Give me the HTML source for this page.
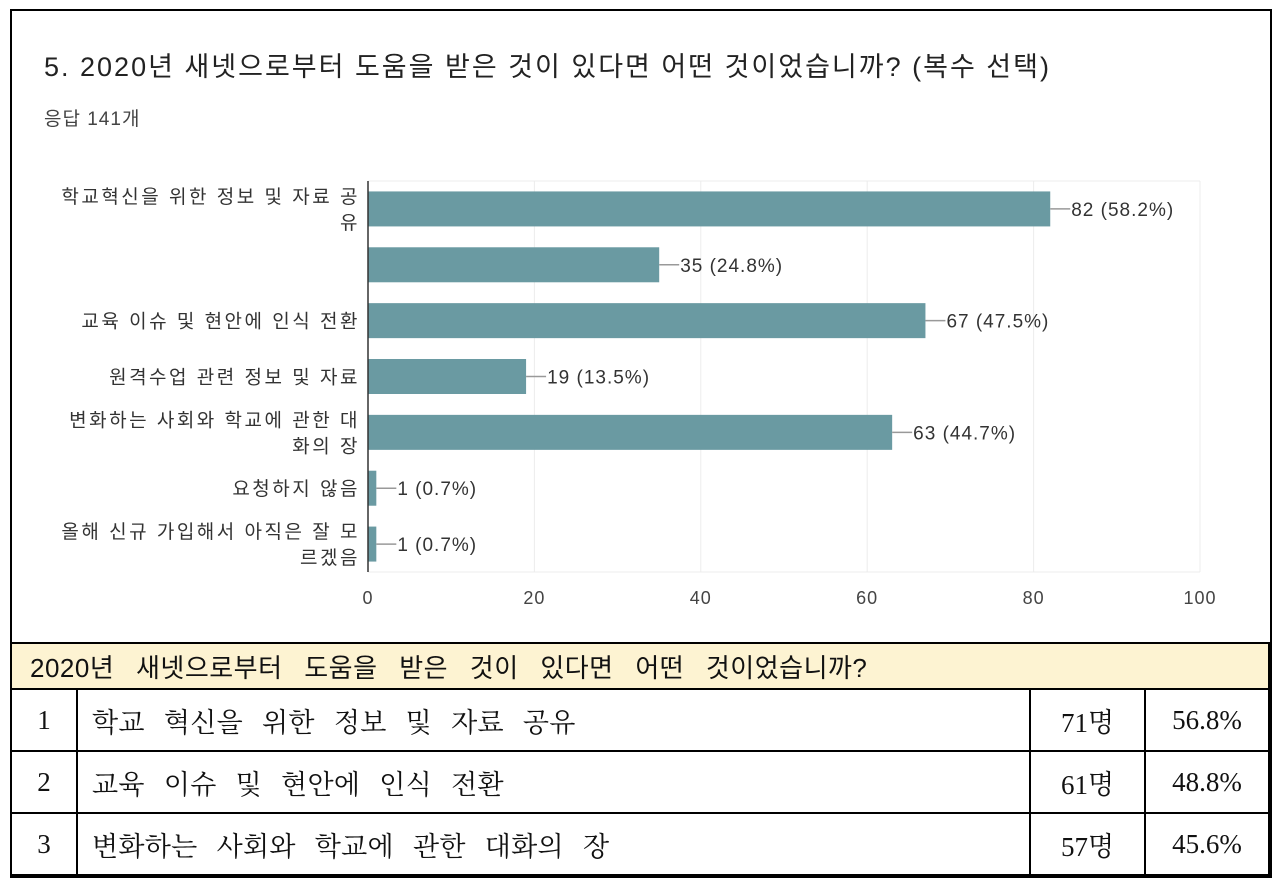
<!DOCTYPE html>
<html><head><meta charset="utf-8">
<style>
body{margin:0;background:#fff;width:1280px;height:886px;overflow:hidden;position:relative;font-family:"Liberation Sans","Noto Sans CJK KR",sans-serif}
#frame{position:absolute;left:10px;top:9px;width:1258px;height:865px;border:2px solid #000;box-sizing:content-box}
svg{position:absolute;left:0;top:0}
table{position:absolute;left:10px;top:642px;width:1260px;border-collapse:collapse;font-family:"Liberation Serif","Noto Serif CJK SC","Noto Sans CJK KR",serif;font-size:27px;color:#111}
td{border:2px solid #000;padding:0;height:60px}
.h td{background:#fdf3d2;height:44px;font-family:"Liberation Sans","Noto Sans CJK KR",sans-serif;font-size:26px;padding-left:18px;word-spacing:14px;letter-spacing:0.5px}
</style></head><body>
<div id="frame"></div>
<svg id="chart" width="1280" height="640"></svg>
<table>
<tr class="h"><td colspan="4">2020년 새넷으로부터 도움을 받은 것이 있다면 어떤 것이었습니까?</td></tr>
<tr><td style="width:64px;text-align:center">1</td><td style="padding-left:14px;word-spacing:12px;letter-spacing:0.3px">학교 혁신을 위한 정보 및 자료 공유</td><td style="width:113px;text-align:center">71명</td><td style="width:122px;text-align:center">56.8%</td></tr>
<tr><td style="text-align:center">2</td><td style="padding-left:14px;word-spacing:12px;letter-spacing:0.3px">교육 이슈 및 현안에 인식 전환</td><td style="text-align:center">61명</td><td style="text-align:center">48.8%</td></tr>
<tr><td style="text-align:center">3</td><td style="padding-left:14px;word-spacing:12px;letter-spacing:0.3px">변화하는 사회와 학교에 관한 대화의 장</td><td style="text-align:center">57명</td><td style="text-align:center">45.6%</td></tr>
</table>
<script>
const categories=[["학교혁신을 위한 정보 및 자료 공","유"],[""],["교육 이슈 및 현안에 인식 전환"],["원격수업 관련 정보 및 자료"],["변화하는 사회와 학교에 관한 대","화의 장"],["요청하지 않음"],["올해 신규 가입해서 아직은 잘 모","르겠음"]];
const counts=[82,35,67,19,63,1,1];
const percents=["58.2%","24.8%","47.5%","13.5%","44.7%","0.7%","0.7%"];
const ticks=[0,20,40,60,80,100];
const NS="http://www.w3.org/2000/svg";
const svg=document.getElementById('chart');
const x0=368,x1=1200,top0=181,bot=572;
const xs=v=>x0+(v-ticks[0])/(ticks[ticks.length-1]-ticks[0])*(x1-x0);
const band=(bot-top0)/categories.length;
const yc=i=>top0+band*(i+0.5);
function mk(t,a,txt){const e=document.createElementNS(NS,t);for(const k in a)e.setAttribute(k,a[k]);if(txt!=null)e.textContent=txt;svg.appendChild(e);return e;}
let e=mk('text',{x:44,y:76,'font-size':27,'letter-spacing':2,fill:'#222'},"5. 2020년 새넷으로부터 도움을 받은 것이 있다면 어떤 것이었습니까? (복수 선택)");

e=mk('text',{x:44,y:125,'font-size':19,'letter-spacing':1,fill:'#444'},"응답 141개");

ticks.forEach(t=>{
 const g=mk('line',{x1:xs(t),x2:xs(t),y1:top0,y2:bot,stroke:'#ececec','stroke-width':1});
 
 const l=mk('text',{x:xs(t),y:604,'text-anchor':'middle','font-size':18,'letter-spacing':1,fill:'#444'},t);
 
});
e=mk('line',{x1:x0,x2:x1,y1:top0,y2:top0,stroke:'#ececec'});
e=mk('line',{x1:x0,x2:x1,y1:bot,y2:bot,stroke:'#ececec'});
const bh=35;
counts.forEach((v,i)=>{
 const y=yc(i);
 const r=mk('rect',{x:x0,y:y-bh/2,width:xs(v)-x0,height:bh,fill:'#6a9aa2'});
 
 const ln=mk('line',{x1:xs(v),x2:xs(v)+20,y1:y,y2:y,stroke:'#999','stroke-width':1.5});
 
 const t=mk('text',{x:xs(v)+21,y:y+7,'font-size':19,'letter-spacing':1,fill:'#333'},v+" ("+percents[i]+")");
 
 const lines=categories[i];
 lines.forEach((s,j)=>{
  const cy=y+(j-(lines.length-1)/2)*26+7;
  const c=mk('text',{x:x0-8,y:cy,'text-anchor':'end','font-size':19,'letter-spacing':2.5,fill:'#333'},s);
  
 });
});
e=mk('line',{x1:x0,x2:x0,y1:top0,y2:bot,stroke:'#333','stroke-width':1.5});

</script>
</body></html>
